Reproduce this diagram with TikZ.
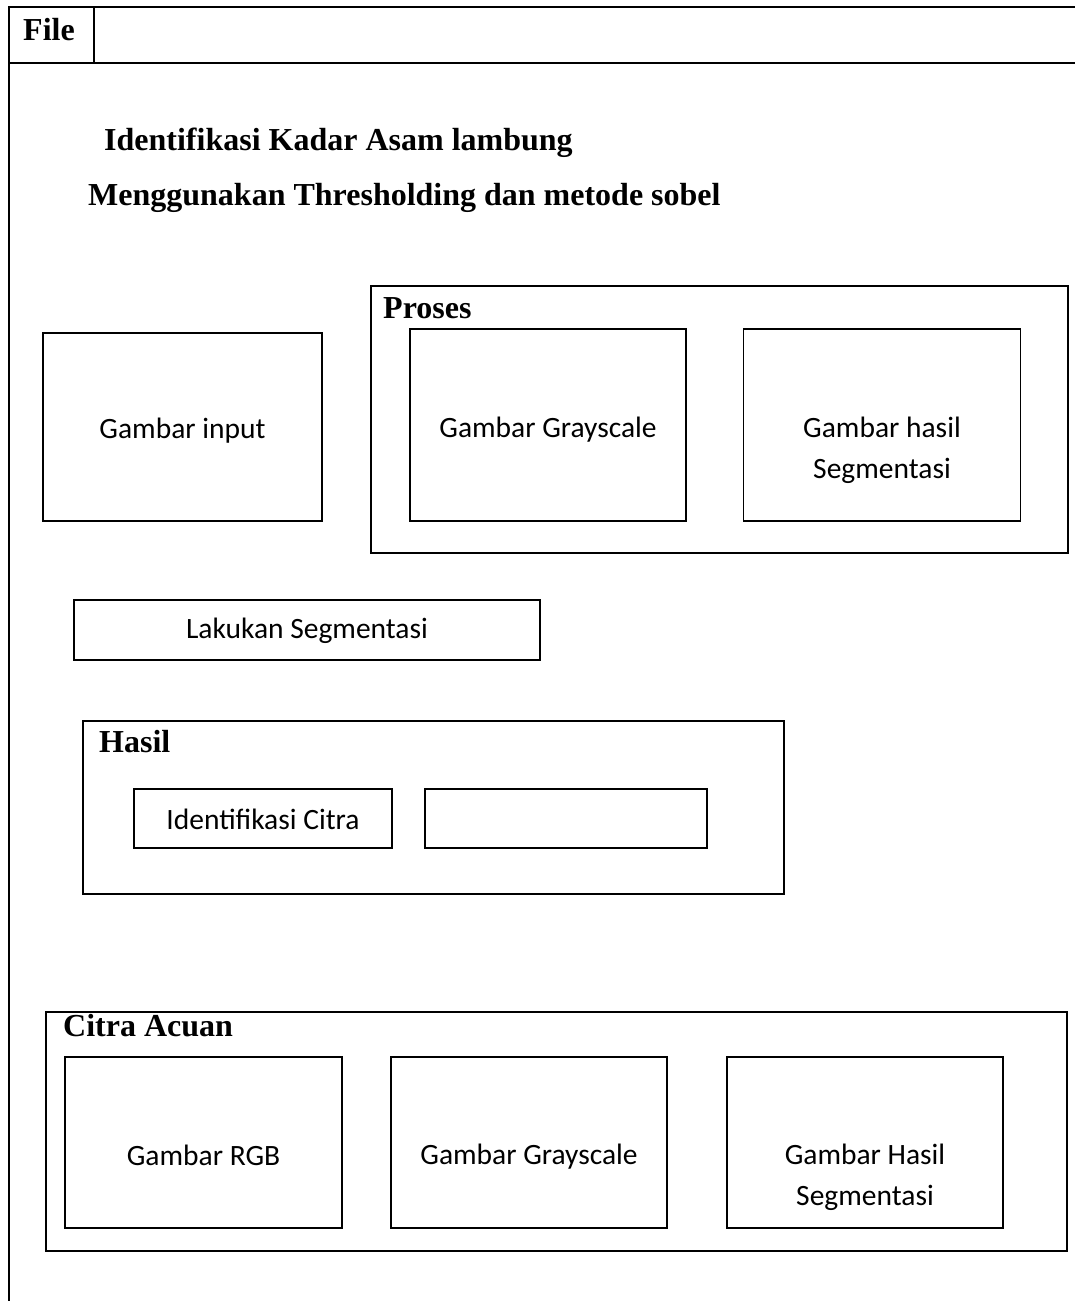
\documentclass[tikz,border=0pt]{standalone}
\usepackage{fontspec}
\setmainfont{Liberation Serif}
\newfontfamily\boxfont{Carlito}
\tikzset{
  frameline/.style={line width=2.6pt, line cap=rect},
  panel/.style={draw, line width=2.4pt, inner sep=0pt},
  cell/.style={draw, line width=1.6pt, inner sep=0pt},
  heading/.style={anchor=base west, inner sep=0pt, font=\fontsize{32}{38}\selectfont\bfseries},
  celltext/.style={inner sep=0pt, align=center, font=\boxfont\fontsize{29.5}{41}\selectfont},
}
\begin{document}
\begin{tikzpicture}[x=1pt, y=-1pt]
  \useasboundingbox (0,0) rectangle (1075,1301);

  % window frame with menu bar
  \coordinate (tl) at (9,7);
  \coordinate (tr) at (1080,7);
  \coordinate (bl) at (9,1310);
  \coordinate (ml) at (9,63);
  \coordinate (mr) at (1080,63);
  \coordinate (sepT) at (94,7);
  \coordinate (sepB) at (94,63);
  \draw[frameline] (bl) -- (tl) -- (tr);
  \draw[frameline] (ml) -- (mr);
  \draw[frameline] (sepT) -- (sepB);
  \node[heading] (file) at (23,40) {File};

  % title
  \node[heading] (title1) at (104,150) {Identifikasi Kadar Asam lambung};
  \node[heading] (title2) at (88,205) {Menggunakan Thresholding dan metode sobel};

  % input image
  \node[cell, minimum width=279pt, minimum height=188pt] (input) at (182.5,427) {};
  \node[celltext] (inputT) at (182.5,431) {Gambar input};

  % process panel
  \node[panel, minimum width=697pt, minimum height=267pt] (proses) at (719.5,419.5) {};
  \node[heading] (prosesL) at (383,318) {Proses};
  \node[cell, minimum width=276pt, minimum height=192pt] (pgray) at (548,425) {};
  \node[celltext] (pgrayT) at (548,430) {Gambar Grayscale};
  \node[cell, minimum width=277pt, minimum height=192pt] (pseg) at (882,425) {};
  \node[celltext, anchor=north] (psegT) at (882,417) {Gambar hasil\\Segmentasi};

  % segmentation button
  \node[cell, minimum width=466pt, minimum height=60pt] (btn) at (307,630) {};
  \node[celltext] (btnT) at (307,631) {Lakukan Segmentasi};

  % result panel
  \node[panel, minimum width=701pt, minimum height=173pt] (hasil) at (433.5,807.5) {};
  \node[heading] (hasilL) at (99,752) {Hasil};
  \node[cell, minimum width=258pt, minimum height=59pt] (ident) at (263,818.5) {};
  \node[celltext] (identT) at (263,819.5) {Identifikasi Citra};
  \node[cell, minimum width=282pt, minimum height=59pt] (value) at (566,818.5) {};

  % reference panel
  \node[panel, minimum width=1021pt, minimum height=239pt] (acuan) at (556.5,1131.5) {};
  \node[heading] (acuanL) at (63,1036) {Citra Acuan};
  \node[cell, minimum width=277pt, minimum height=171pt] (rgb) at (203.5,1142.5) {};
  \node[celltext] (rgbT) at (203.5,1155) {Gambar RGB};
  \node[cell, minimum width=276pt, minimum height=171pt] (agray) at (529,1142.5) {};
  \node[celltext] (agrayT) at (529,1157) {Gambar Grayscale};
  \node[cell, minimum width=276pt, minimum height=171pt] (aseg) at (865,1142.5) {};
  \node[celltext, anchor=north] (asegT) at (865,1144) {Gambar Hasil\\Segmentasi};
\end{tikzpicture}
\end{document}
